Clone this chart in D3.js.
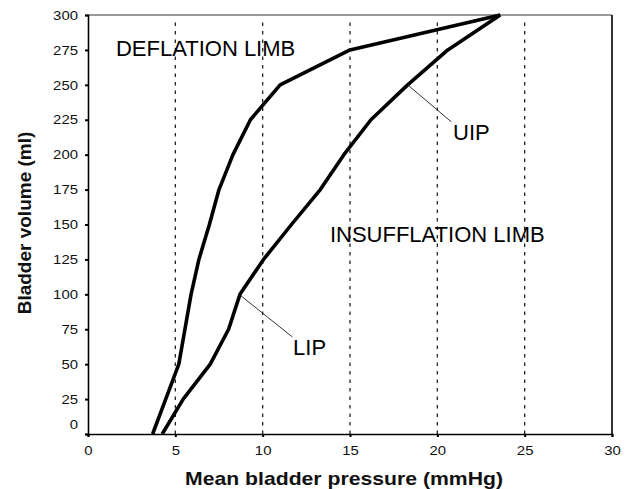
<!DOCTYPE html>
<html>
<head>
<meta charset="utf-8">
<script src="https://cdn.jsdelivr.net/npm/d3@7"></script>
<style>
  body { margin: 0; background: #fff; }
  svg { display: block; font-family: "Liberation Sans", Arial, sans-serif; }
</style>
</head>
<body>
<script>

// pressure (mmHg) / volume (ml)
var volumes = [0, 25, 50, 75, 100, 125, 150, 175, 200, 225, 250, 275, 300];
var deflation = [3.7, 4.45, 5.2, 5.55, 5.9, 6.35, 6.95, 7.5, 8.3, 9.3, 11, 15, 23.6];
var insufflation = [4.25, 5.45, 7, 8.05, 8.7, 10.05, 11.65, 13.3, 14.65, 16.2, 18.3, 20.6, 23.6];

var xTicks = [0, 5, 10, 15, 20, 25, 30];
var yTicks = [0, 25, 50, 75, 100, 125, 150, 175, 200, 225, 250, 275, 300];
var gridX = [5, 10, 15, 20, 25];

// annotations: label, x, y (data units)
var labels = [
  { text: "DEFLATION LIMB", x: 1.6, y: 270.6 },
  { text: "INSUFFLATION LIMB", x: 13.85, y: 137.7 },
  { text: "UIP", x: 20.9, y: 210.5 },
  { text: "LIP", x: 11.74, y: 56.6 }
];
var leaders = [
  { from: [18.3, 250], to: [20.8, 223.5] },
  { from: [8.75, 99], to: [11.7, 69.5] }
];

var W = 627, H = 489;
var margin = {top: 15, right: 15, bottom: 55, left: 88},
    width = W - margin.left - margin.right,
    height = H - margin.top - margin.bottom;

var x = d3.scaleLinear().domain([0, 30]).range([0, width]);
var y = d3.scaleLinear().domain([0, 300]).range([height, 0]);

var svg = d3.select("body").append("svg")
    .attr("width", W)
    .attr("height", H);

var g = svg.append("g")
    .attr("transform", "translate(" + margin.left + "," + margin.top + ")");

// dashed vertical grid
g.selectAll(".grid")
  .data(gridX)
  .enter().append("line")
    .attr("class", "grid")
    .attr("x1", function(d) { return x(d); })
    .attr("x2", function(d) { return x(d); })
    .attr("y1", height)
    .attr("y2", y(296))
    .attr("stroke", "#222")
    .attr("stroke-width", 1.3)
    .attr("stroke-dasharray", "3.5,5");

// frame: top and right
g.append("line")
    .attr("x1", 0).attr("x2", width)
    .attr("y1", 0).attr("y2", 0)
    .attr("stroke", "#777").attr("stroke-width", 1.5);
g.append("line")
    .attr("x1", width).attr("x2", width)
    .attr("y1", 0).attr("y2", height)
    .attr("stroke", "#333").attr("stroke-width", 2);

var xAxis = d3.axisBottom(x).tickValues(xTicks).tickSize(3).tickPadding(9);
var yAxis = d3.axisLeft(y).tickValues(yTicks).tickSize(3).tickPadding(7);

var gx = g.append("g")
    .attr("class", "x axis")
    .attr("transform", "translate(0," + height + ")")
    .call(xAxis);

var gy = g.append("g")
    .attr("class", "y axis")
    .call(yAxis);

[gx, gy].forEach(function(ax) {
  ax.select(".domain").attr("stroke", "#000").attr("stroke-width", 1.6);
  ax.selectAll(".tick line").attr("stroke", "#000").attr("stroke-width", 2);
  ax.selectAll(".tick text")
    .attr("fill", "#111")
    .style("font-size", "13px")
    .attr("textLength", function(d) { return String(d).length * 8.3; })
    .attr("lengthAdjust", "spacingAndGlyphs");
});

// the "0" label sits a little above its tick in the original
gy.selectAll(".tick text").filter(function(d) { return d === 0; })
    .attr("dy", "-0.4em");

// curves
var line = d3.line()
    .x(function(d) { return x(d[0]); })
    .y(function(d) { return y(d[1]); });

var series = [
  volumes.map(function(v, i) { return [deflation[i], v]; }),
  volumes.map(function(v, i) { return [insufflation[i], v]; })
];

g.selectAll(".limb")
  .data(series)
  .enter().append("path")
    .attr("class", "limb")
    .attr("d", line)
    .attr("fill", "none")
    .attr("stroke", "#000")
    .attr("stroke-width", 3.6)
    .attr("stroke-linejoin", "round");

// leader lines for LIP / UIP
g.selectAll(".leader")
  .data(leaders)
  .enter().append("line")
    .attr("class", "leader")
    .attr("x1", function(d) { return x(d.from[0]); })
    .attr("y1", function(d) { return y(d.from[1]); })
    .attr("x2", function(d) { return x(d.to[0]); })
    .attr("y2", function(d) { return y(d.to[1]); })
    .attr("stroke", "#333")
    .attr("stroke-width", 1);

g.selectAll(".note")
  .data(labels)
  .enter().append("text")
    .attr("class", "note")
    .attr("x", function(d) { return x(d.x); })
    .attr("y", function(d) { return y(d.y); })
    .style("font-size", "22px")
    .attr("fill", "#000")
    .text(function(d) { return d.text; });

// axis titles
svg.append("text")
    .attr("x", 185)
    .attr("y", 485)
    .style("font-size", "19px")
    .style("font-weight", "bold")
    .attr("fill", "#111")
    .attr("textLength", 318)
    .attr("lengthAdjust", "spacingAndGlyphs")
    .text("Mean bladder pressure (mmHg)");

svg.append("text")
    .attr("transform", "translate(31,223) rotate(-90)")
    .attr("text-anchor", "middle")
    .style("font-size", "19px")
    .style("font-weight", "bold")
    .attr("fill", "#111")
    .text("Bladder volume (ml)");

</script>
</body>
</html>
